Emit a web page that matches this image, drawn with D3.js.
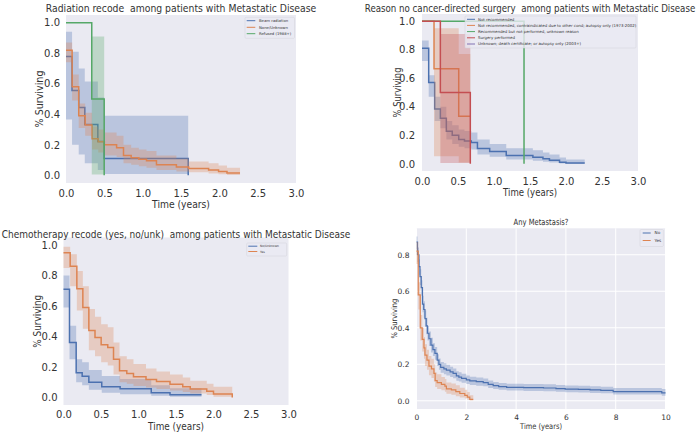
<!DOCTYPE html>
<html><head><meta charset="utf-8">
<script src="https://cdn.jsdelivr.net/npm/d3@7"></script>
<style>
body{margin:0;background:#fff}
svg{display:block}
text{font-family:"DejaVu Sans",sans-serif;fill:#333;white-space:pre}
</style>
</head><body>
<svg id="c" width="700" height="434"></svg>
<script>
// ---------------- DATA ----------------
// Panel 1: Radiation recode
const radTitle = "Radiation recode  among patients with Metastatic Disease";
const radLabels = ["Beam radiation", "None/Unknown", "Refused (1988+)"];
const radBeamT  = [0, 0.079, 0.166, 0.245, 0.415, 0.498, 1.594];
const radBeamS  = [0.778, 0.556, 0.444, 0.333, 0.222, 0.111, 0];
const radBeamHi = [0.94, 0.81, 0.70, 0.615, 0.51, 0.39, 0];
const radBeamLo = [0.365, 0.20, 0.137, 0.08, 0.035, 0.009, 0];
const radNoneT  = [0, 0.08, 0.166, 0.25, 0.34, 0.42, 0.5, 0.66, 0.75, 0.85, 0.95, 1.05, 1.18, 1.44, 1.6, 1.86, 1.99, 2.1, 2.27];
const radNoneS  = [0.82, 0.58, 0.39, 0.33, 0.24, 0.22, 0.20, 0.18, 0.13, 0.115, 0.105, 0.095, 0.07, 0.055, 0.045, 0.035, 0.025, 0.015, 0.015];
const radNoneHi = [0.87, 0.66, 0.47, 0.41, 0.32, 0.30, 0.28, 0.26, 0.20, 0.18, 0.17, 0.16, 0.13, 0.11, 0.09, 0.08, 0.065, 0.05, 0.05];
const radNoneLo = [0.74, 0.49, 0.31, 0.26, 0.17, 0.15, 0.13, 0.12, 0.08, 0.07, 0.06, 0.05, 0.035, 0.025, 0.02, 0.012, 0.007, 0.003, 0.003];
const radRefT   = [0, 0.336, 0.498];
const radRefS   = [1, 0.5, 0];
const radRefHi  = [1, 0.91, 0];
const radRefLo  = [1, 0.006, 0];

// Panel 2: Reason no cancer-directed surgery
const surgTitle = "Reason no cancer-directed surgery  among patients with Metastatic Disease";
const surgLabels = ["Not recommended",
  "Not recommended, contraindicated due to other cond; autopsy only (1973-2002)",
  "Recommended but not performed, unknown reason",
  "Surgery performed",
  "Unknown; death certificate; or autopsy only (2003+)"];
const surgNotT  = [0, 0.093, 0.176, 0.255, 0.338, 0.42, 0.51, 0.59, 0.685, 0.77, 0.94, 1.17, 1.54, 1.68, 1.77, 1.91, 2.0, 2.26];
const surgNotS  = [0.81, 0.57, 0.385, 0.32, 0.228, 0.2, 0.17, 0.16, 0.15, 0.107, 0.086, 0.058, 0.047, 0.036, 0.025, 0.012, 0.006, 0.006];
const surgNotHi = [0.865, 0.62, 0.47, 0.40, 0.30, 0.27, 0.24, 0.23, 0.22, 0.17, 0.14, 0.11, 0.095, 0.08, 0.065, 0.045, 0.03, 0.03];
const surgNotLo = [0.72, 0.47, 0.30, 0.25, 0.17, 0.14, 0.12, 0.11, 0.10, 0.065, 0.05, 0.03, 0.022, 0.015, 0.009, 0.003, 0.001, 0.001];
const surgContraT  = [0, 0.167, 0.51, 0.671];
const surgContraS  = [1, 0.667, 0.333, 0.333];
const surgContraHi = [1, 0.95, 0.77, 0.77];
const surgContraLo = [1, 0.054, 0.009, 0.009];
const surgRecT  = [0, 1.417];
const surgRecS  = [1, 0];
const surgRecHi = [1, 0];
const surgRecLo = [1, 0];
const surgPerfT  = [0, 0.255, 0.671];
const surgPerfS  = [1, 0.5, 0];
const surgPerfHi = [1, 0.91, 0];
const surgPerfLo = [1, 0.006, 0];
const surgUnkT = [], surgUnkS = [], surgUnkHi = [], surgUnkLo = [];

// Panel 3: Chemotherapy recode
const chemoTitle = "Chemotherapy recode (yes, no/unk)  among patients with Metastatic Disease";
const chemoLabels = ["No/Unknown", "Yes"];
const chemoNoT  = [0, 0.08, 0.169, 0.249, 0.338, 0.51, 0.755, 1.17, 1.42, 1.84];
const chemoNoS  = [0.71, 0.36, 0.162, 0.138, 0.10, 0.07, 0.057, 0.03, 0.017, 0.017];
const chemoNoHi = [0.80, 0.47, 0.25, 0.23, 0.18, 0.14, 0.12, 0.08, 0.06, 0.06];
const chemoNoLo = [0.59, 0.25, 0.10, 0.08, 0.05, 0.03, 0.02, 0.01, 0.004, 0.004];
const chemoYesT  = [0, 0.089, 0.178, 0.258, 0.338, 0.42, 0.502, 0.59, 0.667, 0.747, 0.844, 0.933, 1.1, 1.24, 1.42, 1.59, 1.69, 1.91, 2.0, 2.25];
const chemoYesS  = [0.95, 0.862, 0.714, 0.59, 0.44, 0.393, 0.345, 0.328, 0.25, 0.175, 0.157, 0.135, 0.118, 0.105, 0.087, 0.07, 0.055, 0.04, 0.022, 0];
const chemoYesHi = [0.99, 0.94, 0.83, 0.73, 0.58, 0.53, 0.48, 0.46, 0.36, 0.27, 0.25, 0.22, 0.19, 0.17, 0.15, 0.13, 0.11, 0.09, 0.07, 0];
const chemoYesLo = [0.85, 0.73, 0.57, 0.45, 0.31, 0.27, 0.23, 0.21, 0.15, 0.10, 0.09, 0.075, 0.065, 0.055, 0.045, 0.035, 0.025, 0.015, 0.005, 0];

// Panel 4: Any Metastasis?
const metTitle = "Any Metastasis?";
const metLabels = ["No", "Yes"];
const metNoT  = [0, 0.04, 0.1, 0.14, 0.19, 0.24, 0.29, 0.34, 0.39, 0.44, 0.5, 0.58, 0.66, 0.74, 0.83, 0.9, 0.97, 1.1, 1.2, 1.35, 1.47, 1.6, 1.7, 1.81, 2.0, 2.14, 2.4, 2.68, 2.88, 3.08, 3.3, 3.62, 4.3, 5.1, 5.6, 5.97, 6.5, 6.97, 7.4, 7.9, 9.85, 10];
const metNoS  = [0.87, 0.80, 0.735, 0.68, 0.62, 0.53, 0.50, 0.45, 0.41, 0.37, 0.34, 0.305, 0.28, 0.26, 0.223, 0.20, 0.183, 0.175, 0.168, 0.158, 0.15, 0.136, 0.13, 0.123, 0.115, 0.109, 0.105, 0.10, 0.09, 0.083, 0.078, 0.074, 0.072, 0.07, 0.067, 0.064, 0.062, 0.06, 0.057, 0.05, 0.043, 0.043];
const metNoHi = [0.90, 0.84, 0.775, 0.72, 0.66, 0.575, 0.545, 0.495, 0.455, 0.41, 0.38, 0.345, 0.315, 0.295, 0.255, 0.232, 0.213, 0.205, 0.197, 0.186, 0.177, 0.162, 0.156, 0.148, 0.139, 0.132, 0.127, 0.122, 0.111, 0.103, 0.098, 0.094, 0.092, 0.09, 0.087, 0.084, 0.082, 0.08, 0.077, 0.07, 0.065, 0.065];
const metNoLo = [0.83, 0.76, 0.69, 0.635, 0.575, 0.485, 0.455, 0.405, 0.365, 0.33, 0.30, 0.265, 0.245, 0.225, 0.19, 0.17, 0.153, 0.146, 0.139, 0.13, 0.123, 0.11, 0.105, 0.099, 0.092, 0.087, 0.083, 0.079, 0.07, 0.064, 0.06, 0.056, 0.054, 0.052, 0.05, 0.047, 0.045, 0.043, 0.041, 0.034, 0.027, 0.027];
const metYesT  = [0, 0.07, 0.15, 0.23, 0.3, 0.34, 0.42, 0.5, 0.6, 0.7, 0.75, 0.83, 1.0, 1.14, 1.2, 1.4, 1.58, 1.74, 1.94, 2.04, 2.14, 2.28];
const metYesS  = [0.82, 0.58, 0.40, 0.336, 0.29, 0.25, 0.223, 0.19, 0.175, 0.15, 0.11, 0.10, 0.09, 0.08, 0.065, 0.06, 0.05, 0.04, 0.03, 0.02, 0.008, 0.008];
const metYesHi = [0.87, 0.65, 0.47, 0.40, 0.35, 0.31, 0.28, 0.245, 0.23, 0.2, 0.155, 0.145, 0.13, 0.12, 0.1, 0.095, 0.085, 0.072, 0.06, 0.048, 0.03, 0.03];
const metYesLo = [0.75, 0.50, 0.33, 0.27, 0.23, 0.19, 0.17, 0.14, 0.125, 0.105, 0.075, 0.065, 0.058, 0.05, 0.038, 0.033, 0.025, 0.018, 0.012, 0.006, 0.001, 0.001];

// Tick values
const ticksX3 = [0, 0.5, 1.0, 1.5, 2.0, 2.5, 3.0];
const ticksY1 = [0, 0.2, 0.4, 0.6, 0.8, 1.0];
const ticksX10 = [0, 2, 4, 6, 8, 10];
const ticksY08 = [0, 0.2, 0.4, 0.6, 0.8];

const C = {blue:"#4c72b0", orange:"#dd8452", green:"#55a868", red:"#c44e52", purple:"#8172b3"};

// ---------------- DRAW ----------------
const svg = d3.select("#c");

// place a text centred at (cx, cy-baseline) and squeeze it horizontally to a target width
function fitText(g, txt, cx, by, fs, w, rot){
  const t = g.append("text").attr("font-size", fs).attr("text-anchor", "middle").text(txt);
  const nat = t.node().getComputedTextLength();
  const sx = w / nat;
  t.attr("transform", `translate(${cx},${by})${rot ? " rotate(-90)" : ""} scale(${sx},1)`);
  return t;
}

function panel(cfg){
  const g = svg.append("g");
  const x = d3.scaleLinear().domain(cfg.xd).range([cfg.l, cfg.r]);
  const y = d3.scaleLinear().domain(cfg.yd).range([cfg.b, cfg.t]);
  g.append("rect").attr("x", cfg.l).attr("y", cfg.t).attr("width", cfg.r - cfg.l).attr("height", cfg.b - cfg.t).attr("fill", "#eaeaf2");
  if (cfg.grid){
    g.selectAll(".gx").data(cfg.xt).enter().append("line")
      .attr("x1", d => x(d)).attr("x2", d => x(d)).attr("y1", cfg.t).attr("y2", cfg.b)
      .attr("stroke", "#fff").attr("stroke-width", 1);
    g.selectAll(".gy").data(cfg.yt).enter().append("line")
      .attr("y1", d => y(d)).attr("y2", d => y(d)).attr("x1", cfg.l).attr("x2", cfg.r)
      .attr("stroke", "#fff").attr("stroke-width", 1);
  }
  const line = d3.line().curve(d3.curveStepAfter).x(d => x(d.t)).y(d => y(d.s));
  const area = d3.area().curve(d3.curveStepAfter).x(d => x(d.t)).y0(d => y(d.lo)).y1(d => y(d.hi));
  cfg.series.forEach(s => {
    if (!s.T.length) return;
    const pts = s.T.map((t, i) => ({t, s: s.S[i], hi: s.Hi[i], lo: s.Lo[i]}));
    g.append("path").attr("d", line(pts)).attr("fill", "none").attr("stroke", s.c).attr("stroke-width", cfg.lw);
    g.append("path").attr("d", area(pts)).attr("fill", s.c).attr("fill-opacity", 0.3).attr("stroke", "none");
  });
  // axes
  const ax = g.append("g").attr("transform", `translate(0,${cfg.b})`)
    .call(d3.axisBottom(x).tickValues(cfg.xt).tickFormat(d3.format(cfg.xf)).tickSize(0).tickPadding(cfg.xpad));
  const ay = g.append("g").attr("transform", `translate(${cfg.l},0)`)
    .call(d3.axisLeft(y).tickValues(cfg.yt).tickFormat(d3.format(".1f")).tickSize(0).tickPadding(cfg.ypad));
  [ax, ay].forEach(a => {
    a.select(".domain").remove();
    a.selectAll("text").attr("font-family", "DejaVu Sans").attr("font-size", cfg.tfs).attr("fill", "#444");
  });
  const cx = (cfg.l + cfg.r) / 2;
  fitText(g, cfg.title, cx, cfg.titleY, cfg.titleFs, cfg.titleW, false);
  fitText(g, "Time (years)", cx, cfg.xlY, cfg.lfs, cfg.xlW, false);
  fitText(g, "% Surviving", cfg.ylX, (cfg.t + cfg.b) / 2, cfg.lfs, cfg.ylW, true);
  // legend
  const L = cfg.legend;
  const lg = g.append("g");
  lg.append("rect").attr("x", L.x).attr("y", L.y).attr("width", L.w).attr("height", L.h).attr("rx", 1)
    .attr("fill", "#eaeaf2").attr("fill-opacity", 0.8).attr("stroke", "#d2d2da").attr("stroke-width", 0.5);
  cfg.series.forEach((s, i) => {
    const yy = L.rows[i];
    lg.append("line").attr("x1", L.h1).attr("x2", L.h2).attr("y1", yy).attr("y2", yy)
      .attr("stroke", s.c).attr("stroke-width", 1);
    lg.append("text").attr("x", L.tx).attr("y", yy).attr("dy", "0.35em").attr("font-size", L.fs)
      .attr("fill", "#444").text(s.label);
  });
}

panel({
  l: 66, r: 296, t: 15, b: 183, xd: [0, 3], yd: [-0.05, 1.05], xt: ticksX3, yt: ticksY1, xf: ".1f",
  grid: false, lw: 1.5, tfs: 10, xpad: 6.5, ypad: 6,
  title: radTitle, titleY: 12, titleFs: 11, titleW: 271,
  lfs: 10.5, xlY: 208, xlW: 58, ylX: 42.5, ylW: 57,
  series: [
    {label: radLabels[0], c: C.blue, T: radBeamT, S: radBeamS, Hi: radBeamHi, Lo: radBeamLo},
    {label: radLabels[1], c: C.orange, T: radNoneT, S: radNoneS, Hi: radNoneHi, Lo: radNoneLo},
    {label: radLabels[2], c: C.green, T: radRefT, S: radRefS, Hi: radRefHi, Lo: radRefLo}
  ],
  legend: {x: 245, y: 17.3, w: 49.5, h: 21, rows: [20.7, 27.3, 33.7], h1: 246.7, h2: 255.3, tx: 259, fs: 3.8}
});

panel({
  l: 422, r: 638, t: 14, b: 171, xd: [0, 3], yd: [-0.05, 1.05], xt: ticksX3, yt: ticksY1, xf: ".1f",
  grid: false, lw: 1.5, tfs: 10, xpad: 7, ypad: 7,
  title: surgTitle, titleY: 11.5, titleFs: 11, titleW: 331,
  lfs: 10.5, xlY: 196, xlW: 54, ylX: 401.2, ylW: 50,
  series: [
    {label: surgLabels[0], c: C.blue, T: surgNotT, S: surgNotS, Hi: surgNotHi, Lo: surgNotLo},
    {label: surgLabels[1], c: C.orange, T: surgContraT, S: surgContraS, Hi: surgContraHi, Lo: surgContraLo},
    {label: surgLabels[2], c: C.green, T: surgRecT, S: surgRecS, Hi: surgRecHi, Lo: surgRecLo},
    {label: surgLabels[3], c: C.red, T: surgPerfT, S: surgPerfS, Hi: surgPerfHi, Lo: surgPerfLo},
    {label: surgLabels[4], c: C.purple, T: surgUnkT, S: surgUnkS, Hi: surgUnkHi, Lo: surgUnkLo}
  ],
  legend: {x: 465, y: 16, w: 171, h: 32, rows: [19.3, 25.4, 31.6, 37.8, 44], h1: 467, h2: 475, tx: 478, fs: 3.9}
});

panel({
  l: 63.5, r: 288.5, t: 237.5, b: 405, xd: [0, 3], yd: [-0.05, 1.05], xt: ticksX3, yt: ticksY1, xf: ".1f",
  grid: false, lw: 1.5, tfs: 10, xpad: 6, ypad: 6,
  title: chemoTitle, titleY: 237.7, titleFs: 11, titleW: 349,
  lfs: 10.5, xlY: 430, xlW: 56, ylX: 41.2, ylW: 53,
  series: [
    {label: chemoLabels[0], c: C.blue, T: chemoNoT, S: chemoNoS, Hi: chemoNoHi, Lo: chemoNoLo},
    {label: chemoLabels[1], c: C.orange, T: chemoYesT, S: chemoYesS, Hi: chemoYesHi, Lo: chemoYesLo}
  ],
  legend: {x: 246.7, y: 243, w: 40, h: 13, rows: [246.2, 251.5], h1: 248.3, h2: 257.3, tx: 260, fs: 3}
});

panel({
  l: 416.5, r: 665.5, t: 228.3, b: 409, xd: [0, 10], yd: [-0.045, 0.945], xt: ticksX10, yt: ticksY08, xf: "d",
  grid: true, lw: 1.2, tfs: 7.5, xpad: 5.4, ypad: 7,
  title: metTitle, titleY: 224.7, titleFs: 8.5, titleW: 55,
  lfs: 8, xlY: 429.3, xlW: 42, ylX: 397, ylW: 40,
  series: [
    {label: metLabels[0], c: C.blue, T: metNoT, S: metNoS, Hi: metNoHi, Lo: metNoLo},
    {label: metLabels[1], c: C.orange, T: metYesT, S: metYesS, Hi: metYesHi, Lo: metYesLo}
  ],
  legend: {x: 640, y: 229.5, w: 23.3, h: 17, rows: [233, 240.5], h1: 642.7, h2: 650.7, tx: 654.5, fs: 4.2}
});
</script>
</body></html>
